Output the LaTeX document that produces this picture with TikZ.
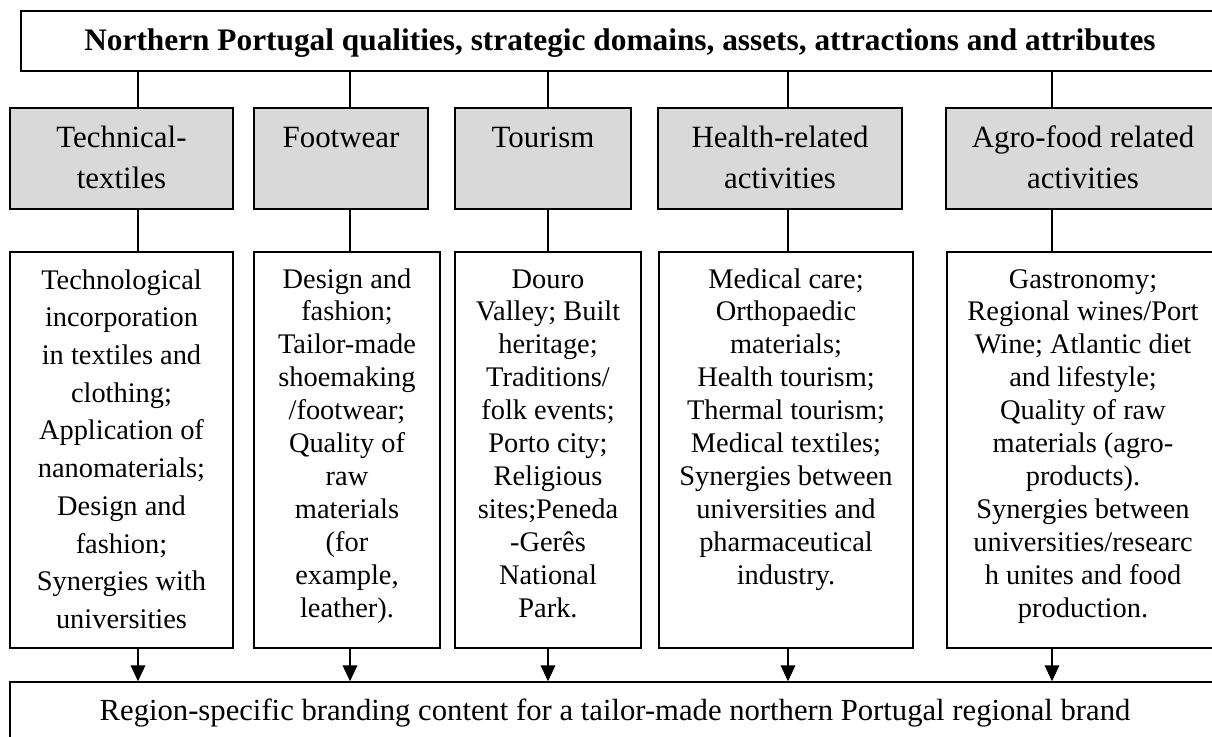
\documentclass[tikz,border=0pt]{standalone}
\usepackage{fontspec}
\setmainfont{Liberation Serif}
\usetikzlibrary{arrows.meta,fit}
\newcommand\bt[3]{\parbox[t]{280pt}{\centering\fontsize{#1}{#2}\selectfont #3}}
\tikzset{
  x=0.75pt, y=-0.75pt,
  frame/.style={draw=black, line width=1.1pt, inner sep=0pt, fill=white},
  greybox/.style={frame, fill=gray!30},
  txt/.style={anchor=base, inner sep=0pt},
  link/.style={draw=black, line width=1.1pt},
  arr/.style={link, -{Triangle[width=11pt,length=12pt]}}
}
\begin{document}
\begin{tikzpicture}
\useasboundingbox (0,0) rectangle (1212,736);
\clip (0,0) rectangle (1212,736);
\fill[white] (0,0) rectangle (1212,736);
% top box
\node[frame, fit={(21,11)(1219,71)}] (top) {};
\node[txt] (toptext) at (620,50) {\fontsize{23.5pt}{26pt}\selectfont\bfseries Northern Portugal qualities, strategic domains, assets, attractions and attributes};
% grey boxes
\node[greybox, fit={(10,108)(233,209)}] (g1) {};
\node[greybox, fit={(254,108)(428,209)}] (g2) {};
\node[greybox, fit={(455,108)(631,209)}] (g3) {};
\node[greybox, fit={(658,108)(902,209)}] (g4) {};
\node[greybox, fit={(946,108)(1220,209)}] (g5) {};
\node[txt] (gt1) at (121.5,147) {\bt{23.2pt}{30.75pt}{Technical-\\textiles}};
\node[txt] (gt2) at (341,147) {\bt{23.2pt}{30.75pt}{Footwear}};
\node[txt] (gt3) at (543,147) {\bt{23.2pt}{30.75pt}{Tourism}};
\node[txt] (gt4) at (780,147) {\bt{23.2pt}{30.75pt}{Health-related\\activities}};
\node[txt] (gt5) at (1083,147) {\bt{23.2pt}{30.75pt}{Agro-food related\\activities}};
% content boxes
\node[frame, fit={(10,252)(233,648)}] (r1) {};
\node[frame, fit={(254,252)(440,648)}] (r2) {};
\node[frame, fit={(455,252)(641,648)}] (r3) {};
\node[frame, fit={(659,252)(913,648)}] (r4) {};
\node[frame, fit={(947,252)(1220,648)}] (r5) {};
\node[txt] (rt1) at (121.5,289) {\bt{21.3pt}{28.3pt}{Technological\\incorporation\\in textiles and\\clothing;\\Application of\\nanomaterials;\\Design and\\fashion;\\Synergies with\\universities}};
\node[txt] (rt2) at (347,288) {\bt{21.3pt}{24.7pt}{Design and\\fashion;\\Tailor-made\\shoemaking\\/footwear;\\Quality of\\raw\\materials\\(for\\example,\\leather).}};
\node[txt] (rt3) at (548,288) {\bt{21.3pt}{24.7pt}{Douro\\Valley; Built\\heritage;\\Traditions/\\folk events;\\Porto city;\\Religious\\sites;Peneda\\-Gerês\\National\\Park.}};
\node[txt] (rt4) at (786,288) {\bt{21.3pt}{24.7pt}{Medical care;\\Orthopaedic\\materials;\\Health tourism;\\Thermal tourism;\\Medical textiles;\\Synergies between\\universities and\\pharmaceutical\\industry.}};
\node[txt] (rt5) at (1083,288) {\bt{21.3pt}{24.7pt}{Gastronomy;\\Regional wines/Port\\Wine; Atlantic diet\\and lifestyle;\\Quality of raw\\materials (agro-\\products).\\Synergies between\\universities/researc\\h unites and food\\production.}};
% bottom box
\node[frame, fit={(10,682)(1220,770)}] (bot) {};
\node[txt] (bottext) at (615,720) {\fontsize{23pt}{26pt}\selectfont Region-specific branding content for a tailor-made northern Portugal regional brand};
% connector x positions
\coordinate (c1) at (138,0);
\coordinate (c2) at (350,0);
\coordinate (c3) at (548,0);
\coordinate (c4) at (788,0);
\coordinate (c5) at (1052,0);
\foreach \i in {1,...,5}{
  \draw[link] (top.south -| c\i) -- (g\i.north -| c\i);
  \draw[link] (g\i.south -| c\i) -- (r\i.north -| c\i);
  \draw[arr] (r\i.south -| c\i) -- (bot.north -| c\i);
}
\end{tikzpicture}
\end{document}
